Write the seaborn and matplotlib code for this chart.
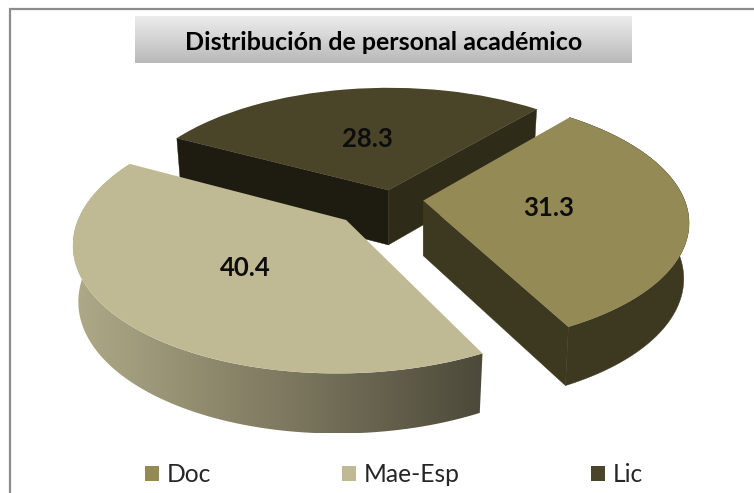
import numpy as np
import matplotlib
matplotlib.use('Agg')
import matplotlib.pyplot as plt
import seaborn as sns
from matplotlib.colors import LinearSegmentedColormap
from matplotlib.patches import Patch, Polygon
from matplotlib.transforms import Transform

labels = ['Doc', 'Mae-Esp', 'Lic']
values = [31.3, 40.4, 28.3]
title = 'Distribución de personal académico'

top_colors = ['#938a55', '#c0ba94', '#4a4528']
explode = [0.12, 0.24, 0.075]
label_xy = [(549, 208), (245, 268), (367, 139)]
draw_order = [1, 2, 0]  # z rank per slice: Lic at the back, Mae-Esp in front

# where the flat pie lands on the canvas (pixels)
CX, CY = 392, 199
R = 261
SQUASH = 0.465
PERSP = 0.16
DEPTH = 55

sns.set_theme(style='white')
plt.rcParams['font.family'] = ['Lato', 'DejaVu Sans']


def nearness(y):
    return 1 / (1 + PERSP * y)


class GroundToScreen(Transform):
    input_dims = 2
    output_dims = 2

    def transform_non_affine(self, xy):
        xy = np.asarray(xy, dtype=float)
        w = nearness(xy[:, 1])
        return np.column_stack([CX + R * xy[:, 0] * w,
                                CY - R * SQUASH * xy[:, 1] * w])


def lower_edge(ground, apex_x, tr):
    # same outline pushed down by the slice thickness
    pts = tr.transform_non_affine(ground)
    w = nearness(ground[:, 1])
    pts[:, 0] = apex_x + (pts[:, 0] - apex_x) * 0.98
    pts[:, 1] += DEPTH * (1 + 0.4 * (w - 1))
    return pts


fig, ax = plt.subplots(figsize=(7.54, 4.93), dpi=100)
fig.subplots_adjust(left=0, right=1, bottom=0, top=1)

wedges, _ = ax.pie(values, explode=explode, startangle=50, counterclock=False,
                   radius=1, colors=sns.color_palette(top_colors),
                   wedgeprops={'linewidth': 0})

wall_cmap = LinearSegmentedColormap.from_list(
    'wall', ['#aeaa88', '#8f8a6d', '#6f6a54', '#4c493a'])
tr = GroundToScreen()

for i, w in enumerate(wedges):
    z = 10 * (draw_order[i] + 1)
    w.set_transform(tr + ax.transData)
    w.set_zorder(z + 1)
    w.set_clip_on(False)

    a = np.radians(np.linspace(w.theta1, w.theta2, 200))
    gx, gy = w.center
    arc_g = np.column_stack([gx + np.cos(a), gy + np.sin(a)])
    apex_g = np.array([[gx, gy]])
    arc = tr.transform_non_affine(arc_g)
    apex = tr.transform_non_affine(apex_g)
    arc_low = lower_edge(arc_g, apex[0, 0], tr)
    apex_low = lower_edge(apex_g, apex[0, 0], tr)

    arc_face = np.vstack([arc, arc_low[::-1]])
    first_face = np.vstack([apex, arc[:1], arc_low[:1], apex_low])
    last_face = np.vstack([apex, arc[-1:], arc_low[-1:], apex_low])

    if labels[i] == 'Doc':
        ax.add_patch(Polygon(first_face, fc='#3d3820', ec='#3d3820', lw=0.3, zorder=z))
        ax.add_patch(Polygon(arc_face, fc='#3d3820', ec='#3d3820', lw=0.3, zorder=z))
    elif labels[i] == 'Lic':
        ax.add_patch(Polygon(last_face, fc='#1e1c10', ec='#1e1c10', lw=0.3, zorder=z))
        ax.add_patch(Polygon(first_face, fc='#2f2b19', ec='#2f2b19', lw=0.3, zorder=z))
    else:
        face = Polygon(arc_face, fc='none', lw=0, zorder=z)
        ax.add_patch(face)
        im = ax.imshow(np.linspace(0, 1, 256).reshape(1, -1), cmap=wall_cmap,
                       extent=(arc_face[:, 0].min(), arc_face[:, 0].max(),
                               arc_face[:, 1].max(), arc_face[:, 1].min()),
                       aspect='auto', zorder=z)
        im.set_clip_path(face)

# title band
ax.imshow(np.linspace(0, 1, 64).reshape(-1, 1),
          cmap=LinearSegmentedColormap.from_list('band', ['#ececec', '#b9b9b9']),
          extent=(135, 632, 63, 16), aspect='auto', zorder=5)
ax.text(384, 42, title, ha='center', va='center', fontsize=18,
        fontweight='bold', color='black', zorder=6)

for v, (x, y) in zip(values, label_xy):
    ax.text(x, y, f'{v:.1f}', ha='center', va='center', fontsize=18.5,
            fontweight='bold', color='#0d0d0d', zorder=100)

# chart frame, only left and top show in the crop
ax.plot([10, 10, 754], [493, 9, 9], color='#8c8c8c', lw=1.6, zorder=200,
        solid_joinstyle='miter', clip_on=False)

handles = [Patch(facecolor=c, edgecolor='none') for c in top_colors]
ax.legend(handles, labels, ncol=3, loc='center', bbox_to_anchor=(394, 475),
          bbox_transform=ax.transData, frameon=False, fontsize=17.7,
          columnspacing=5.35, handlelength=0.57, handleheight=0.57,
          handletextpad=0.3, labelcolor='#262626', borderpad=0, borderaxespad=0)

ax.set_aspect('auto')
ax.set_xlim(0, 754)
ax.set_ylim(493, 0)
ax.axis('off')

plt.savefig('out.png', dpi=100)
